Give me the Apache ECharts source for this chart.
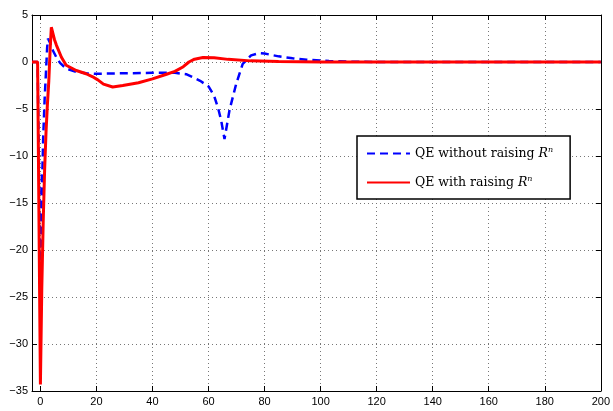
<!DOCTYPE html>
<html>
<head>
<meta charset="utf-8">
<script src="https://cdn.jsdelivr.net/npm/echarts@6/dist/echarts.min.js"></script>
<style>
  html, body { margin: 0; padding: 0; background: #fff; }
  #chart { width: 613px; height: 411px; }
</style>
</head>
<body>
<div id="chart"></div>
<script>
// tick values
const xTicks = [0, 20, 40, 60, 80, 100, 120, 140, 160, 180, 200];

// QE without raising R^n (blue dashed)
const blueX = [-3, -1, 0, 0.5, 1, 1.5, 2, 2.4, 2.7, 3.5, 4.5, 5.7, 7, 9.2, 12.8, 16.3, 20, 30, 40, 48, 52, 55, 57, 60, 62, 63.5, 64.5, 65.7, 67.5, 69.9, 72.2, 75.2, 78, 80, 85, 90, 95, 103, 111, 120, 200];
const blueY = [0, 0, -22.7, -14, -8, -4, -1, 1.5, 2.5, 2, 1.2, 0.5, -0.1, -0.7, -1.06, -1.2, -1.25, -1.2, -1.15, -1.15, -1.3, -1.7, -2.0, -2.6, -3.6, -5, -6.2, -8.2, -5.1, -2.3, -0.2, 0.7, 0.95, 0.9, 0.6, 0.4, 0.25, 0.1, 0.03, 0, 0];

// QE with raising R^n (red solid)
const redX = [-3, -1, 0, 0.5, 1, 1.5, 2, 2.5, 3, 3.5, 3.9, 5, 5.7, 7.5, 9.2, 12.8, 16.3, 18.5, 20.5, 22.5, 25.8, 29.4, 35, 40, 45, 48, 51, 53, 55, 58, 62, 67, 75, 85, 100, 120, 200];
const redY = [0, 0, -34.3, -24, -17, -11.5, -7.5, -4.5, -2, 1.5, 3.7, 2.4, 1.8, 0.5, -0.35, -0.9, -1.25, -1.55, -1.9, -2.35, -2.66, -2.5, -2.2, -1.8, -1.3, -1.0, -0.5, 0, 0.3, 0.47, 0.45, 0.28, 0.12, 0.04, 0.01, 0, 0];

const pairs = (xs, ys) => xs.map((x, i) => [x, ys[i]]);

const chart = echarts.init(document.getElementById("chart"));
const font = "Liberation Sans";
const legendRich = {
  t: { fontFamily: "DejaVu Serif", fontSize: 12.5, color: "#000" },
  i: { fontFamily: "DejaVu Serif", fontStyle: "italic", fontSize: 12.5, color: "#000" },
  s: { fontFamily: "DejaVu Serif", fontStyle: "italic", fontSize: 8, color: "#000", verticalAlign: "top", padding: [0, 0, 7, 0] },
};

chart.setOption({
  animation: false,
  grid: { left: 32, right: 11, top: 15, bottom: 20 },
  legend: {
    orient: "vertical",
    left: 357,
    top: 136,
    itemWidth: 43,
    itemHeight: 14,
    itemGap: 15,
    padding: [10, 17, 10, 9],
    borderColor: "#000",
    borderWidth: 1.5,
    backgroundColor: "#fff",
    itemStyle: { opacity: 0 },
    data: ["QE without raising", "QE with raising"],
    formatter: (name) => "{t|" + name + " }{i|R}{s|n}",
    textStyle: { rich: legendRich },
  },
  xAxis: [
    {
      type: "value",
      min: -3,
      max: 200,
      axisLine: { show: true, onZero: false, lineStyle: { color: "#000", width: 1 } },
      axisTick: { inside: true, length: 5, customValues: xTicks, lineStyle: { color: "#000" } },
      axisLabel: { customValues: xTicks, color: "#000", fontFamily: font, fontSize: 11, margin: 5 },
      splitLine: { show: true, customValues: xTicks, lineStyle: { color: "#777", type: [1, 3], width: 1 } },
    },
    {
      type: "value",
      position: "top",
      min: -3,
      max: 200,
      axisLine: { show: true, onZero: false, lineStyle: { color: "#000", width: 1 } },
      axisTick: { inside: true, length: 5, customValues: xTicks, lineStyle: { color: "#000" } },
      axisLabel: { show: false },
      splitLine: { show: false },
    },
  ],
  yAxis: [
    {
      type: "value",
      min: -35,
      max: 5,
      interval: 5,
      axisLine: { show: true, onZero: false, lineStyle: { color: "#000", width: 1 } },
      axisTick: { show: true, inside: true, length: 5, lineStyle: { color: "#000" } },
      axisLabel: {
        color: "#000", fontFamily: font, fontSize: 11, margin: 4,
        formatter: (v) => String(v).replace("-", "\u2212"),
      },
      splitLine: { show: true, lineStyle: { color: "#777", type: [1, 3], width: 1 } },
    },
    {
      type: "value",
      position: "right",
      min: -35,
      max: 5,
      interval: 5,
      axisLine: { show: true, onZero: false, lineStyle: { color: "#000", width: 1 } },
      axisTick: { show: true, inside: true, length: 5, lineStyle: { color: "#000" } },
      axisLabel: { show: false },
      splitLine: { show: false },
    },
  ],
  series: [
    {
      name: "QE without raising",
      type: "line",
      data: pairs(blueX, blueY),
      showSymbol: false,
      symbol: "none",
      lineStyle: { color: "#0000ff", width: 2.5, type: [8, 5] },
      itemStyle: { color: "#0000ff" },
    },
    {
      name: "QE with raising",
      type: "line",
      data: pairs(redX, redY),
      showSymbol: false,
      symbol: "none",
      lineStyle: { color: "#ff0000", width: 3 },
      itemStyle: { color: "#ff0000" },
    },
  ],
});
</script>
</body>
</html>
